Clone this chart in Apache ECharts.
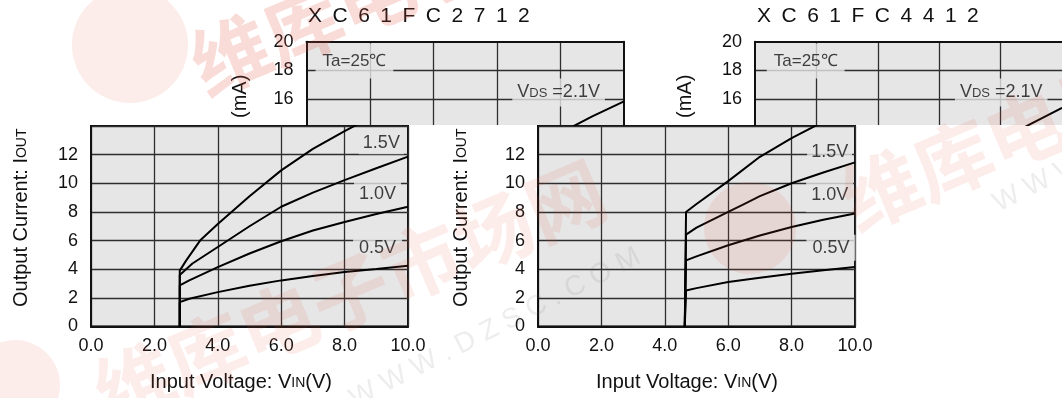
<!DOCTYPE html>
<html>
<head>
<meta charset="utf-8">
<script src="https://cdn.jsdelivr.net/npm/echarts@6/dist/echarts.min.js"></script>
<style>
  html, body { margin: 0; padding: 0; background: #fff; }
  #main { width: 1062px; height: 398px; }
</style>
</head>
<body>
<div id="main"></div>
<script>
  // XC61FC2712 : VIN (V) -> IOUT (mA), one curve per VDS
  const left05 = [[2.8, 0], [2.8, 1.7], [3.1, 1.94], [4, 2.4], [5, 2.85], [6, 3.22], [7, 3.52], [8, 3.8], [9, 4.02], [10, 4.25]]
  const left10 = [[2.8, 0], [2.8, 2.87], [3.1, 3.22], [4, 4.15], [5, 5.1], [6, 5.95], [7, 6.7], [8, 7.3], [9, 7.85], [10, 8.36]]
  const left15 = [[2.8, 0], [2.8, 3.6], [3.2, 4.4], [4, 5.55], [5, 7.0], [6, 8.36], [7, 9.35], [8, 10.22], [9, 11.05], [10, 11.86]]
  const left21 = [[2.8, 0], [2.8, 3.9], [3.0, 4.6], [3.44, 6.0], [4, 7.15], [5, 9.1], [6, 10.9], [7, 12.4], [8, 13.65], [9, 14.8], [10, 15.85]]

  // XC61FC4412
  const right05 = [[4.63, 0], [4.67, 2.52], [5, 2.68], [6, 3.1], [7, 3.4], [8, 3.69], [9, 3.93], [10, 4.15]]
  const right10 = [[4.63, 0], [4.67, 4.62], [5, 4.9], [6, 5.67], [7, 6.35], [8, 6.95], [9, 7.45], [10, 7.89]]
  const right15 = [[4.63, 0], [4.67, 6.42], [5, 6.9], [6, 8.0], [6.5, 8.55], [7, 9.1], [8, 10.0], [9, 10.75], [10, 11.46]]
  const right21 = [[4.63, 0], [4.67, 8.0], [5, 8.55], [6, 10.15], [7, 11.85], [8, 13.15], [9, 14.3], [10, 15.4]]

  // curve labels: text, VIN, IOUT
  const leftLabels = [['1.5V', 9.16, 12.8], ['1.0V', 9.04, 9.28], ['0.5V', 9.04, 5.5]]
  const rightLabels = [['1.5V', 9.2, 12.2], ['1.0V', 9.2, 9.17], ['0.5V', 9.24, 5.5]]
  const topLeftLabels = [['Ta=25℃', 1.51, 18.66], ['VDS', 7.94, 16.47]]
  const topRightLabels = [['Ta=25℃', 1.65, 18.66], ['VDS', 8.02, 16.47]]

  const titles = ['XC61FC2712', 'XC61FC4412']
  const xMin = 0, xMax = 10, xStep = 2
  const yTopMin = 14.2, yTopMax = 20
  const yMin = 0, yMax = 14, yStep = 2

  const FONT = 'Liberation Sans, Arial, Helvetica, sans-serif'
  const PLOT_BG = '#e6e6e6'
  const INK = '#111'
  const GRID_LINE = { color: '#2e2e2e', width: 1.3 }
  const BORDER = { color: '#111', width: 2 }

  const chart = echarts.init(document.getElementById('main'))

  const labelPad = {
    '1.5V': [2, 4], '1.0V': [8, 5], '0.5V': [4, 6], 'Ta=25℃': [9, 7], 'VDS': [5, 5]
  }

  function labelSeries(xi, yi, list) {
    return {
      type: 'scatter',
      xAxisIndex: xi,
      yAxisIndex: yi,
      z: 1,
      symbolSize: 0,
      silent: true,
      data: list.map(l => ({
        value: [l[1], l[2]],
        name: l[0],
        label: { padding: labelPad[l[0]] }
      })),
      label: {
        show: true,
        position: 'inside',
        backgroundColor: PLOT_BG,
        color: INK,
        fontFamily: FONT,
        fontSize: 18,
        formatter: p => p.name === 'VDS' ? '{a|V}{s|DS}{a| =2.1V}' : (p.name.indexOf('Ta') === 0 ? '{t|' + p.name + '}' : p.name),
        rich: {
          a: { fontSize: 18, fontFamily: FONT, color: INK },
          s: { fontSize: 13, fontFamily: FONT, color: INK, verticalAlign: 'bottom', padding: [0, 0, 1, 0] },
          t: { fontSize: 17, fontFamily: FONT, color: INK }
        }
      }
    }
  }

  function curve(xi, yi, data) {
    return {
      type: 'line',
      xAxisIndex: xi,
      yAxisIndex: yi,
      z: 2,
      symbol: 'none',
      silent: true,
      clip: true,
      lineStyle: { color: '#000', width: 2 },
      data: data
    }
  }

  const tickLabel = { fontFamily: FONT, fontSize: 18, color: INK }

  const topX = i => ({
    gridIndex: i, type: 'value', min: xMin, max: xMax, interval: xStep, position: 'top',
    axisLine: { show: true, lineStyle: BORDER }, axisTick: { show: false }, axisLabel: { show: false },
    splitLine: { show: true, showMinLine: false, showMaxLine: false, lineStyle: GRID_LINE }
  })
  const topY = (i, gap) => ({
    gridIndex: i, type: 'value', min: yTopMin, max: yTopMax, minInterval: yStep, maxInterval: yStep,
    axisLine: { show: true, onZero: false, lineStyle: BORDER }, axisTick: { show: false },
    axisLabel: Object.assign({ margin: 13, formatter: v => (v % yStep === 0 ? v : '') }, tickLabel),
    splitLine: { show: true, showMinLine: false, showMaxLine: false, lineStyle: GRID_LINE },
    name: '(mA)', nameLocation: 'middle', nameGap: gap,
    nameTextStyle: { fontFamily: FONT, fontSize: 20, color: INK, padding: [0, 26, 0, 0] }
  })
  const bottomX = (i, pad) => ({
    gridIndex: i, type: 'value', min: xMin, max: xMax, interval: xStep,
    axisLine: { show: true, onZero: false, lineStyle: BORDER }, axisTick: { show: false },
    axisLabel: Object.assign({ margin: 11, formatter: v => v.toFixed(1) }, tickLabel),
    splitLine: { show: true, lineStyle: GRID_LINE },
    name: '{a|Input Voltage: V}{s|IN}{a|(V)}', nameLocation: 'middle', nameGap: 46,
    nameTextStyle: {
      padding: [0, pad, 0, 0],
      rich: {
        a: { fontFamily: FONT, fontSize: 20, color: INK },
        s: { fontFamily: FONT, fontSize: 14, color: INK, verticalAlign: 'bottom', padding: [0, 0, 2, 0] }
      }
    }
  })
  const bottomY = (i, gap) => ({
    gridIndex: i, type: 'value', min: yMin, max: yMax, interval: yStep,
    axisLine: { show: true, onZero: false, lineStyle: BORDER }, axisTick: { show: false },
    axisLabel: Object.assign({ margin: 13, showMaxLabel: false }, tickLabel),
    splitLine: { show: true, lineStyle: GRID_LINE },
    name: '{a|Output Current: I}{s|OUT}', nameLocation: 'middle', nameGap: gap,
    nameTextStyle: {
      padding: [0, 0, 0, 17],
      rich: {
        a: { fontFamily: FONT, fontSize: 20, color: INK },
        s: { fontFamily: FONT, fontSize: 14, color: INK, verticalAlign: 'bottom', padding: [0, 0, 2, 0] }
      }
    }
  })

  const spaced = s => s.split('').join('\u2002')

  // faint site watermark of the scanned sheet
  const wmRed = 'rgba(226, 80, 60, 0.11)'
  const wmRedStrong = 'rgba(226, 80, 60, 0.2)'
  const wmGrey = 'rgba(110, 110, 110, 0.12)'
  const cjk = { fontSize: 78, fontWeight: 'bold', fontFamily: 'Noto Sans CJK SC', verticalAlign: 'middle' }
  const watermark = [
    { type: 'circle', shape: { cx: 130, cy: 45, r: 58 }, style: { fill: wmRed } },
    { type: 'circle', shape: { cx: 750, cy: 228, r: 46 }, style: { fill: wmRed } },
    { type: 'circle', shape: { cx: 15, cy: 385, r: 45 }, style: { fill: wmRed } },
    { type: 'text', x: 350, y: 292, rotation: 0.4, style: Object.assign({ text: '维库电子市场网', fill: wmRed, align: 'center' }, cjk) },
    { type: 'text', x: 495, y: 328, rotation: 0.47, style: { text: 'W W W . D Z S C . C O M', fontSize: 28, fontFamily: FONT, fill: wmGrey, align: 'center', verticalAlign: 'middle' } },
    { type: 'text', x: 845, y: 205, rotation: 0.4, style: Object.assign({ text: '维库电子市场网', fill: wmRed, align: 'left' }, cjk) },
    { type: 'text', x: 995, y: 205, rotation: 0.47, style: { text: 'W W W . D Z S C . C O M', fontSize: 28, fontFamily: FONT, fill: wmGrey, align: 'left', verticalAlign: 'middle' } },
    { type: 'text', x: 195, y: 70, rotation: 0.4, style: Object.assign({ text: '维库电子市场网', fill: wmRedStrong, align: 'left' }, cjk) }
  ].map(g => Object.assign({ silent: true, z: 100 }, g))

  chart.setOption({
    animation: false,
    backgroundColor: '#fff',
    title: [
      { text: spaced(titles[0]), left: 308, top: 6, padding: 0, textStyle: { fontFamily: FONT, fontSize: 21, fontWeight: 'normal', color: INK } },
      { text: spaced(titles[1]), left: 757, top: 6, padding: 0, textStyle: { fontFamily: FONT, fontSize: 21, fontWeight: 'normal', color: INK } }
    ],
    grid: [
      { left: 306.5, top: 41.7, width: 317.5, height: 83.3, show: true, backgroundColor: PLOT_BG, borderWidth: 0 },
      { left: 755, top: 41.7, width: 318.5, height: 83.3, show: true, backgroundColor: PLOT_BG, borderWidth: 0 },
      { left: 91, top: 126, width: 317, height: 200.5, show: true, backgroundColor: PLOT_BG, borderColor: BORDER.color, borderWidth: 2 },
      { left: 538, top: 126, width: 317, height: 200.5, show: true, backgroundColor: PLOT_BG, borderColor: BORDER.color, borderWidth: 2 }
    ],
    xAxis: [topX(0), topX(1), bottomX(2, 17), bottomX(3, 19)],
    yAxis: [
      topY(0, 56), topY(1, 60), bottomY(2, 60), bottomY(3, 67),
      {
        gridIndex: 0, type: 'value', min: yTopMin, max: yTopMax, position: 'right',
        axisLine: { show: true, onZero: false, lineStyle: BORDER }, axisTick: { show: false },
        axisLabel: { show: false }, splitLine: { show: false }
      }
    ],
    graphic: watermark,
    series: [
      curve(0, 0, left21), curve(1, 1, right21),
      curve(2, 2, left05), curve(2, 2, left10), curve(2, 2, left15), curve(2, 2, left21),
      curve(3, 3, right05), curve(3, 3, right10), curve(3, 3, right15), curve(3, 3, right21),
      labelSeries(0, 0, topLeftLabels), labelSeries(1, 1, topRightLabels),
      labelSeries(2, 2, leftLabels), labelSeries(3, 3, rightLabels)
    ]
  })
</script>
</body>
</html>
